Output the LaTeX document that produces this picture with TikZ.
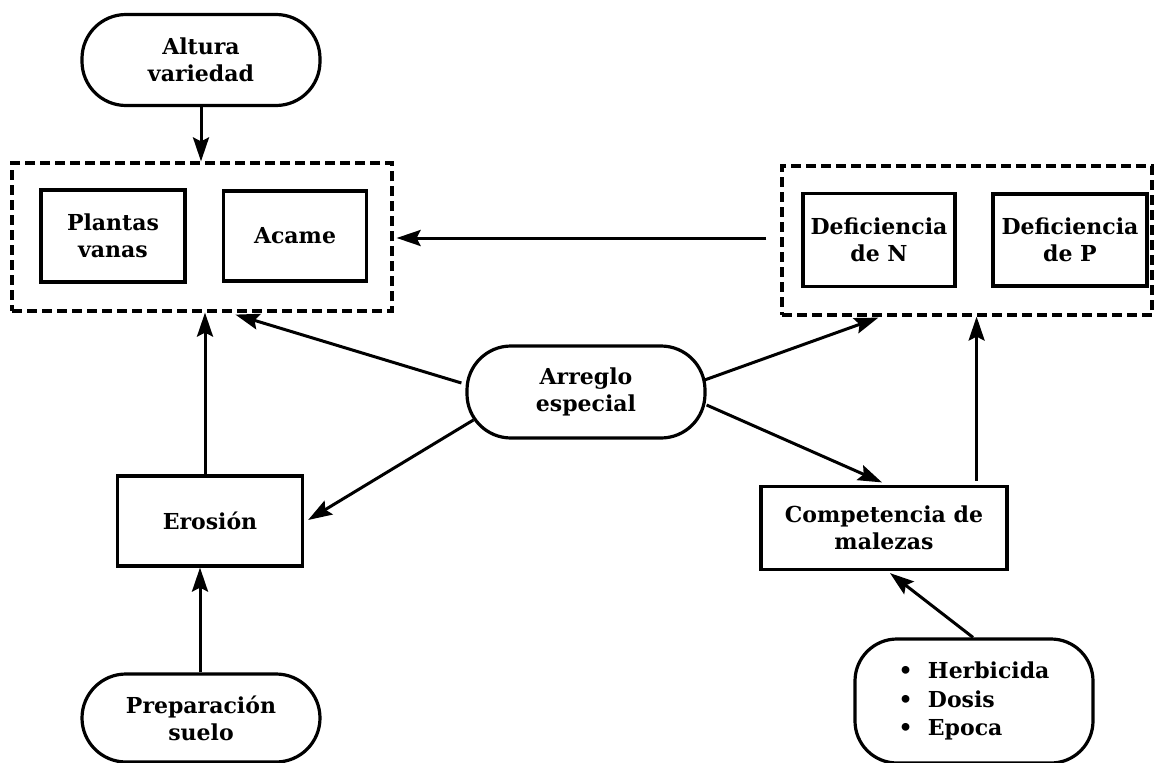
\documentclass[tikz,border=0pt]{standalone}
\usepackage{fontspec}
\setmainfont{DejaVu Serif}
\usetikzlibrary{arrows.meta,calc}
\begin{document}
\begin{tikzpicture}[x=1pt,y=-1pt,
  txt/.style={font=\bfseries\fontsize{22}{27}\selectfont, align=center, inner sep=0pt},
  pill/.style={txt, draw, line width=3.2pt, rounded corners=44pt, minimum width=238pt},
  box/.style={txt, draw, line width=3.2pt},
  dbox/.style={draw, line width=3.2pt, dash pattern=on 10pt off 5pt, inner sep=0pt},
  arr/.style={line width=3pt, -{Stealth[length=24pt,width=16pt,inset=4pt]}}]
\useasboundingbox (0,0) rectangle (1157,763);
% groups
\node[dbox, minimum width=380pt, minimum height=148pt] (L) at (202,237) {};
\node[dbox, minimum width=370pt, minimum height=149pt] (R) at (967,240.5) {};
% nodes
\node[pill, minimum height=91pt] (alt) at (201,60) {Altura\\variedad};
\node[box, minimum width=144pt, minimum height=92pt] (pv) at (113,236) {Plantas\\vanas};
\node[box, minimum width=143pt, minimum height=90pt] (ac) at (295,236) {Acame};
\node[box, minimum width=152pt, minimum height=93pt] (dn) at (879,240) {Deficiencia\\de N};
\node[box, minimum width=154pt, minimum height=92pt] (dp) at (1070,240) {Deficiencia\\de P};
\node[pill, minimum height=92pt] (arr) at (586,392) {Arreglo\\especial};
\node[box, minimum width=185pt, minimum height=90pt] (ero) at (210,521) {Erosión};
\node[pill, minimum height=88pt] (prep) at (201,718) {Preparación\\suelo};
\node[box, minimum width=246pt, minimum height=83pt] (comp) at (884,528) {Competencia de\\malezas};
\node[pill, minimum height=124pt, rounded corners=42pt, align=left, font=\bfseries\fontsize{22}{28.5}\selectfont] (herb) at (974,701) {\textbullet\hspace{0.7em}Herbicida\\\textbullet\hspace{0.7em}Dosis\\\textbullet\hspace{0.7em}Epoca};
% connectors
\draw[arr] (alt.south) -- (alt.south |- L.north);
\coordinate (hs) at ($(R.west)+(-14,-2.5)$);
\draw[arr] (hs) -- ($(L.east |- hs)+(3,0)$);
\draw[arr] ($(arr.west)+(-4,-9)$) -- ($(L.south west)+(225,2)$);
\draw[arr] ($(arr.east)+(-2,-12)$) -- ($(R.south west)+(98,1)$);
\draw[arr] ($(arr.west)+(8,28)$) -- ($(ero.east)+(4,-1)$);
\draw[arr] ($(arr.east)+(0,13)$) -- ($(comp.north)+(-2,-2.5)$);
\coordinate (es) at ($(ero.north)+(-5,0)$);
\draw[arr] (es) -- (es |- L.south);
\coordinate (ps) at ($(prep.north)+(-1,0)$);
\draw[arr] (ps) -- (ps |- ero.south);
\coordinate (cs) at ($(comp.north east)+(-32,-4)$);
\draw[arr] (cs) -- (cs |- R.south);
\draw[arr] ($(herb.north)+(-1,0)$) -- ($(comp.south)+(6,2)$);
\end{tikzpicture}
\end{document}
